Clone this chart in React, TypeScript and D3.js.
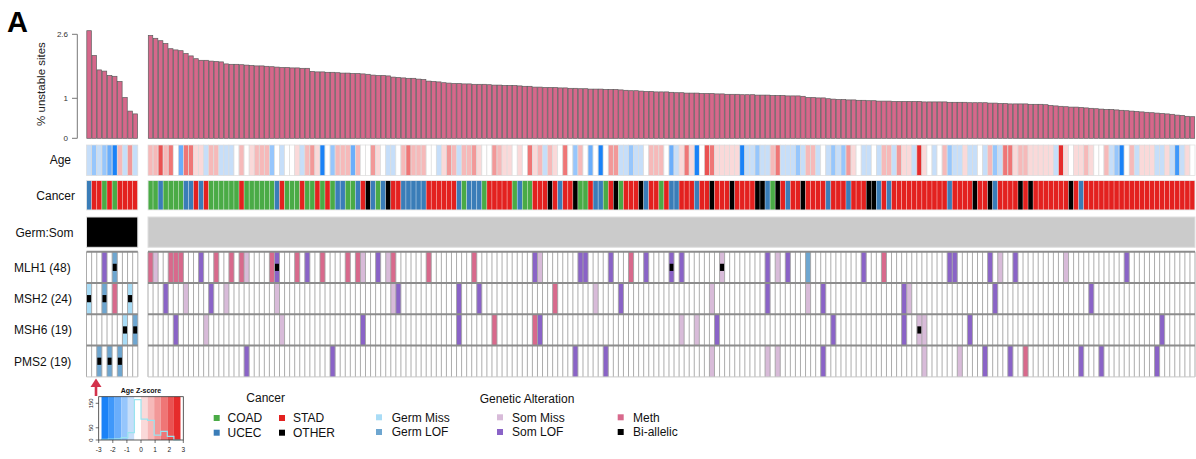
import React from "react";
import * as d3 from "d3";

const W = 1196;
const H = 459;
const FONT = "'Liberation Sans', Arial, Helvetica, sans-serif";

// ---------- DATA ----------
const leftBars = [2.69, 2.07, 1.71, 1.68, 1.57, 1.55, 1.42, 1.02, 0.68, 0.61];
const mainBars = [
  2.57, 2.5, 2.44, 2.37, 2.24, 2.21, 2.19, 2.12, 2.06, 1.99,
  1.95, 1.95, 1.93, 1.92, 1.91, 1.86, 1.85, 1.85, 1.84, 1.83,
  1.82, 1.81, 1.81, 1.8, 1.79, 1.78, 1.77, 1.77, 1.76, 1.76,
  1.75, 1.75, 1.67, 1.66, 1.66, 1.65, 1.65, 1.64, 1.63, 1.63,
  1.62, 1.62, 1.61, 1.6, 1.58, 1.57, 1.57, 1.56, 1.53, 1.52,
  1.51, 1.5, 1.5, 1.48, 1.47, 1.43, 1.42, 1.41, 1.39, 1.38,
  1.37, 1.37, 1.36, 1.36, 1.35, 1.35, 1.35, 1.34, 1.33, 1.33,
  1.32, 1.32, 1.32, 1.31, 1.3, 1.3, 1.28, 1.28, 1.27, 1.27,
  1.27, 1.26, 1.26, 1.25, 1.25, 1.24, 1.24, 1.23, 1.23, 1.23,
  1.22, 1.22, 1.22, 1.21, 1.2, 1.19, 1.19, 1.18, 1.17, 1.17,
  1.16, 1.16, 1.16, 1.15, 1.14, 1.14, 1.13, 1.13, 1.13, 1.12,
  1.12, 1.12, 1.11, 1.11, 1.1, 1.1, 1.1, 1.09, 1.09, 1.09,
  1.08, 1.08, 1.08, 1.07, 1.07, 1.07, 1.06, 1.06, 1.06, 1.05,
  1.02, 1.02, 1.01, 1.01, 0.99, 0.98, 0.97, 0.97, 0.96, 0.96,
  0.95, 0.95, 0.94, 0.94, 0.93, 0.93, 0.93, 0.92, 0.92, 0.92,
  0.92, 0.92, 0.92, 0.91, 0.91, 0.91, 0.91, 0.91, 0.9, 0.9,
  0.9, 0.9, 0.89, 0.89, 0.89, 0.89, 0.88, 0.88, 0.87, 0.87,
  0.86, 0.86, 0.86, 0.86, 0.85, 0.85, 0.85, 0.84, 0.82, 0.81,
  0.8, 0.79, 0.78, 0.78, 0.77, 0.76, 0.75, 0.74, 0.73, 0.72,
  0.72, 0.71, 0.7, 0.69, 0.68, 0.67, 0.66, 0.65, 0.64, 0.63,
  0.62, 0.61, 0.6, 0.58, 0.57, 0.55, 0.54,
];

// C = COAD, U = UCEC, S = STAD, O = OTHER
const leftCancer = "USSCSCSSSS".split("");
const mainCancer = (
  "CCUCCCCUUS" + "USCCCCCCSC" + "CCCCCUSCCC" + "SCCSCSCUUC" + "CUSOUCUOSS" +
  "UUUUUSSSSS" + "SUCUUUCSSS" + "SSCUCCSSSO" + "SUSSOCCSUU" + "CSOCSSSOUS" +
  "SCSUUSSSUS" + "SOSSSOSSSS" + "OOUCOSUSSO" + "SSSSUSSSUS" + "SSOOUSUSSS" +
  "SSSSSSSSUS" + "SSSOSSOUSS" + "SSOSOSSSSS" + "SSOSUSSSSS" + "SSSSSSSSSS" +
  "SSSSSSS"
).split("");

const leftAge = [-0.8, -1.2, -0.8, -1.3, -1.6, -2.4, 0.7, -0.8, 1.2, -0.7];
const mainAge = [
  0.7, 0.8, 2.3, 0.7, 1.7, -0.2, -1.7, 1.8, 1.8, 0.3,
  0.4, -0.8, 0.6, 0.7, -0.7, -0.7, -0.6, -0.2, 0.9, -0.2,
  0.3, 0.6, 0.6, 0.8, -1.3, -0.2, -0.7, -0.2, -0.2, 0.3,
  -0.8, 0.6, 1.4, 0.3, -2.6, -0.2, -1.3, 0.6, 0.8, 0.7,
  -1.6, 0.7, -0.2, -0.2, 1.3, 0.3, -0.2, -0.7, -0.7, -0.2,
  0.7, 1.7, 0.8, 0.7, 0.8, -0.2, -0.2, -0.8, 0.3, 1.3,
  0.7, -0.7, 0.8, 0.6, 1.3, 0.3, -0.2, -0.2, 1.4, 0.7,
  0.4, 0.3, -0.2, 0.3, -0.2, 1.8, 0.3, 0.6, -0.8, 0.7,
  0.3, -0.2, 1.8, -0.2, -1.3, 0.6, -0.2, -1.6, -0.2, -2.4,
  -0.2, 1.3, 1.1, -0.8, -0.8, -1.3, -0.7, -0.7, -0.2, 0.7,
  0.8, 0.8, -0.2, -1.6, -0.7, 0.3, 1.6, 0.3, -2.5, -0.2,
  1.9, 1.7, 0.3, 0.3, 0.3, 0.3, 0.3, -2.5, -0.7, -0.7,
  -1.3, -0.7, -0.8, 0.7, 1.5, -0.7, -0.8, -0.7, -1.3, -0.7,
  0.6, 0.7, -0.8, -0.2, -0.7, -1.3, -0.7, -1.4, 1.3, 0.3,
  -0.2, -0.7, -0.7, -0.2, -0.8, 0.7, 0.7, -0.7, 1.4, 0.3,
  0.3, -0.8, 2.4, 0.3, -0.2, -0.8, -0.2, 0.7, -1.3, -0.7,
  -0.7, 0.3, -0.8, -0.7, -0.2, -0.8, 0.8, -1.4, -0.7, 1.7,
  1.6, 0.3, 0.7, 0.7, 0.3, 0.3, 0.3, 0.3, 0.3, -0.8,
  2.4, 0.3, -0.2, 0.3, 0.3, 0.7, 0.3, -0.2, -0.2, 0.7,
  -0.7, -1.3, -2.4, -0.2, 0.7, -0.8, 0.3, 0.3, 0.3, -0.7,
  -0.7, 0.3, -0.8, -2.3, -0.7, 0.3, -0.2,
];

// alteration codes: GM Germ Miss, GL Germ LOF, SM Som Miss, SL Som LOF, M Meth; third item 1 = bi-allelic
type Alt = [number, string, number?];
const mlh1Left: Alt[] = [[3, "SL"], [5, "GL", 1]];
const msh2Left: Alt[] = [[0, "GM", 1], [3, "GL", 1], [5, "M"], [8, "GM", 1]];
const msh6Left: Alt[] = [[7, "GM", 1], [9, "GL", 1]];
const pms2Left: Alt[] = [[2, "GL", 1], [4, "GL", 1], [6, "GL", 1]];

const mlh1Main: Alt[] = [
  [0, "M"], [1, "SM"], [4, "M"], [5, "M"], [6, "M"], [10, "SL"], [13, "M"], [16, "M"], [18, "M"], [19, "SM"],
  [24, "M"], [25, "SL", 1], [29, "M"], [31, "SL"], [34, "M"], [39, "M"], [41, "M"], [42, "SM"], [45, "SL"], [47, "SM"],
  [48, "M"], [55, "M"], [64, "M"], [76, "SL"], [77, "SM"], [85, "SL"], [86, "SL"], [91, "SL"], [95, "M"], [98, "SL"],
  [103, "SL", 1], [105, "SL"], [113, "SM", 1], [122, "SL"], [124, "SM"], [126, "SL"], [130, "GL"], [141, "SL"], [145, "M"],
  [158, "SL"], [159, "SL"], [166, "SL"], [168, "SM"], [171, "SL"], [181, "SM"], [193, "SL"],
];
const msh2Main: Alt[] = [
  [3, "SL"], [7, "SM"], [12, "SL"], [15, "SM"], [25, "SM"], [48, "SM"], [49, "SL"], [61, "SL"], [65, "SL"], [80, "M"],
  [88, "SM"], [93, "SL"], [111, "SM"], [122, "SL"], [130, "SM"], [133, "SL"], [149, "SL"], [150, "SM"], [167, "SL"], [186, "SL"],
];
const msh6Main: Alt[] = [
  [5, "SL"], [11, "SM"], [26, "SM"], [42, "SL"], [61, "SL"], [68, "M"], [76, "M"], [77, "SL"], [105, "SM"], [108, "SM"],
  [112, "SL"], [135, "SL"], [149, "SL"], [152, "SM", 1], [153, "SM"], [162, "SL"], [200, "SL"],
];
const pms2Main: Alt[] = [
  [19, "SL"], [36, "SL"], [84, "SL"], [90, "SL"], [111, "SM"], [122, "SM"], [124, "SM"], [133, "SL"], [153, "SM"],
  [160, "SM"], [165, "SL"], [170, "SL"], [173, "M"], [184, "SL"], [188, "SL"], [199, "SL"],
];

const geneLabels = ["MLH1 (48)", "MSH2 (24)", "MSH6 (19)", "PMS2 (19)"];
const yTicks = [0, 1, 2.6];

const ageLegendTicks = [-3, -2, -1, 0, 1, 2, 3];
const ageHistCounts = [3, 4, 5, 10, 30, 165, 85, 80, 20, 35, 15, 0];
const ageHistYTicks = [0, 50, 150];

const cancerLegend = [
  ["C", "COAD"], ["U", "UCEC"], ["S", "STAD"], ["O", "OTHER"],
];
const altLegend = [
  ["GM", "Germ Miss"], ["GL", "Germ LOF"], ["SM", "Som Miss"], ["SL", "Som LOF"], ["M", "Meth"], ["BI", "Bi-allelic"],
];

// ---------- STYLES ----------
const cancerColor: Record<string, string> = { C: "#4aab46", U: "#3a7db8", S: "#e3211f", O: "#000000" };
const altColor: Record<string, string> = {
  GM: "#a9dcf6", GL: "#6ea6d0", SM: "#d8bbd9", SL: "#8a63c7", M: "#d8698c", BI: "#000000",
};
const agePalette = [
  "#1a82f7", "#3f98fa", "#6aaefb", "#96c6fc", "#c6def9", "#ffffff",
  "#fad9d9", "#f6b9b9", "#f29898", "#ef7676", "#ea5252", "#e62b2b",
];
const BAR_FILL = "#d6688b";

export default function App() {
  const y = d3.scaleLinear().domain([0, 2.6]).range([138.3, 34.3]);
  const ageColor = d3.scaleQuantize<string>().domain([-2.8, 2.8]).range(agePalette);

  const groups = [
    {
      key: "L",
      x: d3.scaleBand<number>().domain(d3.range(leftBars.length)).range([86.5, 137.8]),
      bars: leftBars, cancer: leftCancer, age: leftAge,
      alts: [mlh1Left, msh2Left, msh6Left, pms2Left], germ: "#000000",
    },
    {
      key: "M",
      x: d3.scaleBand<number>().domain(d3.range(mainBars.length)).range([148, 1195]),
      bars: mainBars, cancer: mainCancer, age: mainAge,
      alts: [mlh1Main, msh2Main, msh6Main, pms2Main], germ: "#cbcbcb",
    },
  ];

  const ageTop = 145, ageBot = 175.5;
  const canTop = 180.5, canBot = 210;
  const germTop = 217, germBot = 247.3;
  const geneTop = 251.7, geneH = 31.3;

  // Age legend
  const lx = d3.scaleLinear().domain([-3, 3]).range([98.7, 183.3]);
  const ly = d3.scaleLinear().domain([0, 150]).range([440, 403.3]);
  const bandEdges = d3.range(13).map((k) => -2.8 + (5.6 / 12) * k);
  const histPts: [number, number][] = ageHistCounts.map((c, k) => [bandEdges[k], c]);
  histPts.push([bandEdges[12], 0]);
  const histLine = d3
    .line<[number, number]>()
    .x((d) => lx(d[0]))
    .y((d) => ly(d[1]))
    .curve(d3.curveStepAfter)(histPts);

  return (
    <svg
      width={W}
      height={H}
      style={{ position: "absolute", left: 0, top: 0, background: "#fff" }}
      fontFamily={FONT}
    >
      <rect x={0} y={0} width={W} height={H} fill="#fff" />
      <text x={7} y={31.5} fontSize={29} fontWeight="bold" fill="#000">A</text>

      {/* y axis */}
      <line x1={77.3} x2={77.3} y1={y(2.6)} y2={y(0)} stroke="#777" strokeWidth={1} />
      {yTicks.map((t) => (
        <g key={t}>
          <line x1={72} x2={77.3} y1={y(t)} y2={y(t)} stroke="#777" strokeWidth={1} />
          <text x={68} y={y(t) + 2.8} fontSize={8} textAnchor="end" fill="#333">{t}</text>
        </g>
      ))}
      <text transform="translate(45,84) rotate(-90)" fontSize={11.5} textAnchor="middle" fill="#222">
        % unstable sites
      </text>

      {/* row labels */}
      <text x={71} y={164} fontSize={12} textAnchor="end" fill="#111">Age</text>
      <text x={75} y={199.5} fontSize={12} textAnchor="end" fill="#111">Cancer</text>
      <text x={73.5} y={236.5} fontSize={12} textAnchor="end" fill="#111">Germ:Som</text>
      {geneLabels.map((g, k) => (
        <text key={g} x={14} y={geneTop + k * geneH + geneH / 2 + 4.5} fontSize={12} fill="#111">{g}</text>
      ))}

      {groups.map((G) => {
        const bw = G.x.bandwidth();
        const n = G.bars.length;
        const x0 = G.x(0)!;
        const x1 = G.x(n - 1)! + bw;
        return (
          <g key={G.key}>
            {/* bars */}
            {G.bars.map((v, i) => (
              <rect
                key={"b" + i}
                x={G.x(i)! + 0.3}
                width={bw - 0.6}
                y={y(v)}
                height={y(0) - y(v)}
                fill={BAR_FILL}
                stroke="#5c5c5c"
                strokeWidth={0.7}
              />
            ))}
            {/* age */}
            {G.age.map((a, i) => (
              <rect
                key={"a" + i}
                x={G.x(i)!}
                width={bw}
                y={ageTop}
                height={ageBot - ageTop}
                fill={ageColor(a)}
                stroke="#dcdcdc"
                strokeWidth={0.7}
              />
            ))}
            {/* cancer */}
            {G.cancer.map((c, i) => (
              <rect
                key={"c" + i}
                x={G.x(i)!}
                width={bw}
                y={canTop}
                height={canBot - canTop}
                fill={cancerColor[c]}
                stroke="rgba(255,255,255,0.45)"
                strokeWidth={0.6}
              />
            ))}
            <rect x={x0} y={canTop} width={x1 - x0} height={canBot - canTop} fill="none" stroke="#e4e4e4" strokeWidth={0.8} />
            {/* germ:som */}
            <rect x={x0} y={germTop} width={x1 - x0} height={germBot - germTop} fill={G.germ} stroke="#e0e0e0" strokeWidth={1} />
            {/* gene block */}
            <rect x={x0} y={geneTop} width={x1 - x0} height={geneH * 4} fill="#fff" />
            {G.alts.map((list, g) =>
              list.map(([i, t, bi]) => (
                <g key={"g" + g + "-" + i}>
                  <rect x={G.x(i)!} width={bw} y={geneTop + g * geneH} height={geneH} fill={altColor[t]} />
                  {bi ? (
                    <rect
                      x={G.x(i)! + bw / 2 - 2.2}
                      width={4.4}
                      y={geneTop + g * geneH + geneH / 2 - 3.6}
                      height={7.2}
                      fill="#000"
                    />
                  ) : null}
                </g>
              ))
            )}
            {d3.range(n + 1).map((i) => {
              const xx = i < n ? G.x(i)! : x1;
              return (
                <line
                  key={"v" + i}
                  x1={xx}
                  x2={xx}
                  y1={geneTop}
                  y2={geneTop + geneH * 4}
                  stroke="#a3a3a3"
                  strokeWidth={0.9}
                />
              );
            })}
            {d3.range(5).map((k) => (
              <line
                key={"h" + k}
                x1={x0}
                x2={x1}
                y1={geneTop + k * geneH}
                y2={geneTop + k * geneH}
                stroke={k === 4 ? "#c8c8c8" : "#8c8c8c"}
                strokeWidth={k === 4 ? 1 : 2}
              />
            ))}
          </g>
        );
      })}

      {/* red arrow */}
      <line x1={96} x2={96} y1={396} y2={385} stroke="#d3324b" strokeWidth={2.6} />
      <polygon points="90.5,387 101.5,387 96,378.5" fill="#d3324b" />

      {/* Age Z-score legend */}
      <text x={141} y={393} fontSize={7} fontWeight="bold" textAnchor="middle" fill="#111">Age Z-score</text>
      {agePalette.map((c, k) => (
        <rect key={"lb" + k} x={lx(bandEdges[k])} y={396.7} width={lx(bandEdges[k + 1]) - lx(bandEdges[k])} height={43.3} fill={c} />
      ))}
      <path d={histLine || ""} fill="none" stroke="#98e4ef" strokeWidth={1.2} />
      <rect x={lx(-3)} y={396.7} width={lx(3) - lx(-3)} height={43.3} fill="none" stroke="#333" strokeWidth={0.8} />
      {ageLegendTicks.map((t) => (
        <g key={"lt" + t}>
          <line x1={lx(t)} x2={lx(t)} y1={440} y2={443} stroke="#333" strokeWidth={0.7} />
          <text x={lx(t)} y={452} fontSize={6.5} textAnchor="middle" fill="#222">{t}</text>
        </g>
      ))}
      {ageHistYTicks.map((t) => (
        <g key={"ly" + t}>
          <line x1={lx(-3) - 3} x2={lx(-3)} y1={ly(t)} y2={ly(t)} stroke="#333" strokeWidth={0.7} />
          <text transform={`translate(${lx(-3) - 6},${ly(t)}) rotate(-90)`} fontSize={6} textAnchor="middle" fill="#222">{t}</text>
        </g>
      ))}

      {/* Cancer legend */}
      <text x={265.7} y={402} fontSize={12} textAnchor="middle" fill="#111">Cancer</text>
      {cancerLegend.map(([code, label], k) => {
        const cx = k < 2 ? 216.7 : 282;
        const tx = k < 2 ? 227.5 : 293;
        const cy = k % 2 === 0 ? 418 : 432.7;
        return (
          <g key={code}>
            <rect x={cx - 3} y={cy - 3} width={6} height={6} fill={cancerColor[code]} />
            <text x={tx} y={cy + 4.3} fontSize={12} fill="#111">{label}</text>
          </g>
        );
      })}

      {/* Genetic alteration legend */}
      <text x={527} y={403} fontSize={12} textAnchor="middle" fill="#111">Genetic Alteration</text>
      {altLegend.map(([code, label], k) => {
        const col = Math.floor(k / 2);
        const cx = [379, 500, 620.7][col];
        const tx = [391.7, 512, 633][col];
        const cy = k % 2 === 0 ? 417.3 : 432;
        return (
          <g key={code}>
            <rect x={cx - 3} y={cy - 3} width={6} height={6} fill={altColor[code]} />
            <text x={tx} y={cy + 4.3} fontSize={12} fill="#111">{label}</text>
          </g>
        );
      })}
    </svg>
  );
}
